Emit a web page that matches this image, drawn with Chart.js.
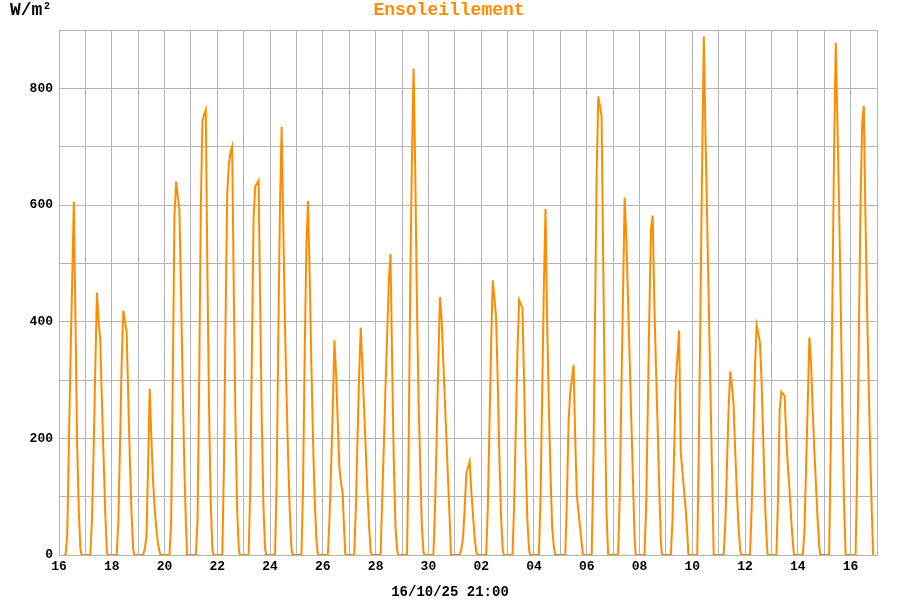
<!DOCTYPE html>
<html>
<head>
<meta charset="utf-8">
<script src="https://cdn.jsdelivr.net/npm/chart.js@4/dist/chart.umd.min.js"></script>
<style>
  body { margin: 0; background: #fff; }
  canvas { display: block; }
</style>
</head>
<body>
<canvas id="sunChart" width="900" height="600"></canvas>
<script>
// day of month under each daily grid line (16 Sept -> 16 Oct)
const dayLabels = ["16","17","18","19","20","21","22","23","24","25","26","27","28","29","30",
                   "01","02","03","04","05","06","07","08","09","10","11","12","13","14","15","16"];

// readings taken at these hours of each day
const HOURS = [4.5, 6, 7.5, 9, 10.5, 12, 13.5, 15, 16.5, 18, 19.5, 20.5];

// W/m2, one row per day, September part
const sunSept = [
    [0,   0,  35, 190, 340, 470, 606, 400, 190,  75, 10, 0],
    [0,  60, 180, 320, 450, 400, 370, 266, 171,  76,  5, 0],
    [0,  60, 190, 330, 419, 400, 383, 270, 160,  70, 10, 0],
    [0,  10,  30, 150, 285, 200, 130,  80,  45,  20,  5, 0],
    [0,  60, 300, 580, 640, 615, 592, 450, 290, 150, 50, 0],
    [0,  60, 300, 600, 744, 755, 763, 480, 250,  90, 10, 0],
    [0, 150, 400, 620, 670, 690, 700, 450, 230,  80, 10, 0],
    [0, 120, 360, 580, 632, 637, 642, 430, 220,  80, 10, 0],
    [0, 130, 380, 600, 734, 560, 400, 270, 160,  70, 10, 0],
    [0, 120, 350, 530, 607, 480, 330, 200, 100,  30,  0, 0],
    [0,  60, 150, 250, 368, 310, 230, 150, 125, 105, 35, 0],
    [0,  80, 200, 310, 390, 320, 250, 180, 110,  50,  5, 0],
    [0, 100, 190, 290, 380, 470, 516, 330, 160,  50, 10, 0],
    [0, 180, 470, 680, 834, 660, 440, 270, 155,  50,  5, 0],
    [0,  80, 200, 330, 442, 405, 334, 263, 193, 122, 52, 0]
];

// W/m2, October part
const sunOct = [
    [0,  10,  30,  80, 140, 150, 160, 110,  70,  30,  5, 0],
    [0,  80, 220, 360, 471, 440, 410, 300, 170,  70, 10, 0],
    [0,  90, 220, 350, 437, 430, 424, 300, 160,  60, 10, 0],
    [0, 100, 280, 460, 593, 400, 260, 140,  50,  15,  0, 0],
    [0, 100, 230, 280, 300, 326, 200, 102,  74,  46, 19, 0],
    [0, 150, 400, 650, 786, 770, 752, 500, 250,  70,  0, 0],
    [0, 100, 280, 450, 613, 544, 441, 338, 234, 131, 28, 0],
    [0,  80, 250, 420, 560, 582, 430, 320, 220, 110, 20, 0],
    [0,  60, 180, 300, 340, 385, 176, 144, 111,  79, 35, 0],
    [0, 194, 436, 679, 889, 723, 576, 430, 283, 137,  0, 0],
    [0,  50, 150, 250, 315, 290, 260, 180, 110,  50, 10, 0],
    [0,  80, 200, 320, 394, 380, 365, 300, 200, 100, 30, 0],
    [0, 100, 250, 280, 276, 273, 200, 150, 110,  60, 20, 0],
    [0,  40, 150, 260, 373, 330, 250, 180, 120,  60, 15, 0],
    [0, 200, 450, 700, 878, 740, 600, 430, 250,  90,  0, 0],
    [0, 150, 380, 600, 740, 770, 580, 420, 290, 160, 60, 0]
];

const yLabels = [0, 200, 400, 600, 800];
const lastUpdate = "16/10/25 21:00";

// x in days since 16/09 00:00
const points = [];
sunSept.concat(sunOct).forEach((row, d) => {
    row.forEach((v, i) => points.push({ x: d + HOURS[i] / 24, y: v }));
});

const ORANGE = "#ff8c00";
const GRID = "#b4b4b4";
const MONO = '"Liberation Mono", "DejaVu Sans Mono", monospace';

// texts around the plot (title, unit, date)
const textsPlugin = {
    id: "texts",
    afterDraw(chart) {
        const ctx = chart.ctx;
        ctx.save();
        ctx.textBaseline = "alphabetic";
        ctx.font = "bold 18px " + MONO;
        ctx.fillStyle = ORANGE;
        ctx.textAlign = "center";
        ctx.fillText("Ensoleillement", 449, 15);

        ctx.fillStyle = "#000";
        ctx.textAlign = "left";
        ctx.fillText("W/m", 10, 15);
        ctx.font = "bold 10px " + MONO;
        ctx.fillText("2", 44, 9);

        ctx.font = "bold 14px " + MONO;
        ctx.textAlign = "center";
        ctx.fillText(lastUpdate, 450, 596);
        ctx.restore();
    }
};

new Chart(document.getElementById("sunChart"), {
    type: "line",
    data: {
        datasets: [{
            data: points,
            borderColor: ORANGE,
            borderWidth: 2,
            pointRadius: 0,
            tension: 0,
            fill: false
        }]
    },
    options: {
        responsive: false,
        animation: false,
        devicePixelRatio: 1,
        layout: { padding: { left: 0, right: 23, top: 30, bottom: 0 } },
        plugins: {
            legend: { display: false },
            tooltip: { enabled: false }
        },
        scales: {
            x: {
                type: "linear",
                min: 0,
                max: 31,
                afterFit: (s) => { s.height = 45; },
                grid: { color: GRID, drawTicks: false },
                border: { color: GRID },
                ticks: {
                    stepSize: 1,
                    autoSkip: false,
                    maxRotation: 0,
                    padding: 4,
                    color: "#000",
                    font: { family: MONO, size: 13, weight: "bold" },
                    callback: (v) => (v % 2 === 0 && v < dayLabels.length) ? dayLabels[v] : ""
                }
            },
            y: {
                min: 0,
                max: 900,
                afterFit: (s) => { s.width = 59; },
                grid: { color: GRID, drawTicks: false },
                border: { color: GRID },
                ticks: {
                    stepSize: 100,
                    padding: 6,
                    color: "#000",
                    font: { family: MONO, size: 13, weight: "bold" },
                    callback: (v) => yLabels.includes(v) ? String(v) : ""
                }
            }
        }
    },
    plugins: [textsPlugin]
});
</script>
</body>
</html>
